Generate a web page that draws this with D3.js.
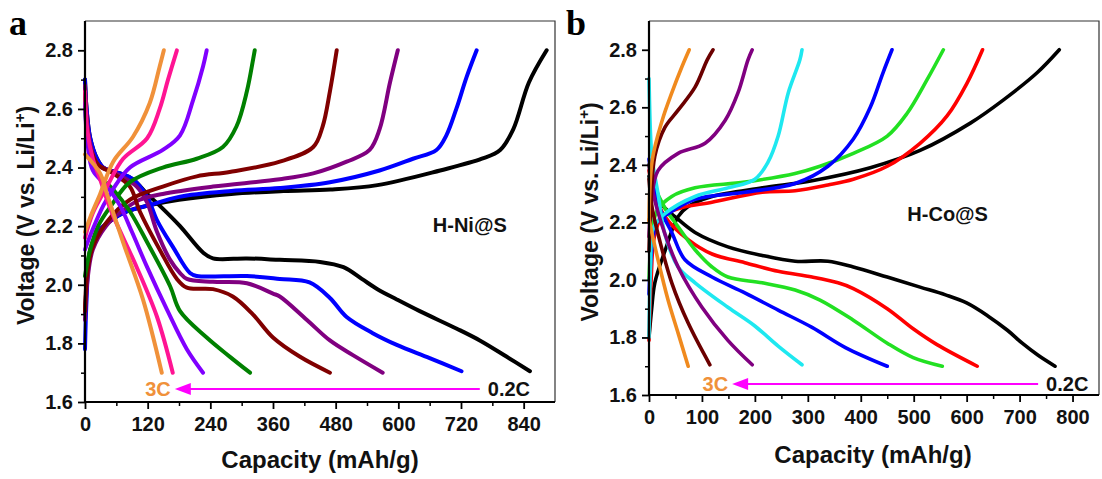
<!DOCTYPE html>
<html>
<head>
<meta charset="utf-8">
<script src="https://cdn.jsdelivr.net/npm/d3@7"></script>
<style>
  body { margin: 0; background: #fff; }
  text { font-weight: bold; }
</style>
</head>
<body>
<div id="chart"></div>
<script>
// ---- panel a : H-Ni@S, [capacity mAh/g, voltage V] ----
var niBlackCh  = [[0,1.90],[5,2.05],[10,2.12],[25,2.18],[50,2.22],[80,2.25],[120,2.27],[180,2.29],[280,2.31],[380,2.32],[470,2.325],[560,2.34],[680,2.39],[760,2.43],[795,2.46],[820,2.53],[850,2.69],[884,2.80]];
var niBlueCh   = [[0,1.78],[3,1.95],[8,2.08],[25,2.18],[50,2.22],[80,2.25],[120,2.27],[180,2.30],[280,2.32],[373,2.33],[469,2.35],[564,2.39],[628,2.43],[673,2.46],[692,2.51],[711,2.60],[731,2.71],[750,2.80]];
var niPurpleCh = [[0,1.88],[5,2.02],[15,2.12],[40,2.20],[70,2.25],[105,2.29],[149,2.31],[245,2.335],[373,2.36],[437,2.38],[501,2.42],[545,2.46],[564,2.53],[584,2.69],[599,2.80]];
var niMaroonCh = [[0,1.91],[5,2.05],[15,2.13],[40,2.21],[86,2.29],[149,2.335],[214,2.37],[277,2.385],[373,2.42],[437,2.47],[455,2.54],[469,2.66],[482,2.80]];
var niGreenCh  = [[0,2.03],[10,2.12],[25,2.20],[50,2.27],[86,2.35],[149,2.40],[214,2.43],[264,2.47],[290,2.54],[310,2.66],[322,2.77],[325,2.80]];
var niVioletCh = [[0,2.12],[15,2.19],[35,2.27],[55,2.33],[86,2.40],[149,2.46],[182,2.51],[207,2.63],[226,2.745],[233,2.80]];
var niPinkCh   = [[0,2.16],[15,2.245],[42,2.335],[73,2.43],[119,2.50],[143,2.60],[159,2.70],[176,2.80]];
var niOrangeCh = [[0,2.18],[10,2.23],[29,2.31],[54,2.42],[92,2.505],[124,2.62],[143,2.745],[151,2.80]];

var niBlackDis  = [[0,2.70],[3,2.60],[10,2.50],[23,2.43],[35,2.40],[67,2.38],[92,2.36],[119,2.31],[143,2.27],[182,2.20],[226,2.11],[245,2.09],[310,2.09],[373,2.085],[450,2.078],[495,2.06],[530,2.02],[560,1.985],[597,1.95],[641,1.91],[712,1.85],[756,1.81],[807,1.755],[852,1.705]];
var niBlueDis   = [[0,2.70],[3,2.60],[10,2.50],[23,2.43],[35,2.40],[67,2.38],[92,2.36],[119,2.30],[138,2.22],[168,2.13],[201,2.04],[214,2.03],[310,2.03],[373,2.02],[430,2.008],[469,1.955],[501,1.89],[551,1.835],[597,1.795],[660,1.75],[721,1.705]];
var niPurpleDis = [[0,2.68],[3,2.58],[10,2.48],[25,2.41],[60,2.38],[99,2.335],[119,2.28],[138,2.18],[163,2.085],[182,2.04],[195,2.02],[245,2.01],[310,2.005],[360,1.97],[373,1.96],[425,1.88],[469,1.81],[513,1.76],[570,1.70]];
var niMaroonDis = [[0,2.66],[3,2.56],[10,2.47],[25,2.41],[54,2.38],[86,2.335],[105,2.25],[143,2.12],[176,2.02],[195,1.99],[245,1.985],[283,1.96],[321,1.90],[360,1.82],[411,1.755],[469,1.70]];
var niGreenDis  = [[0,2.62],[5,2.50],[15,2.42],[29,2.37],[54,2.325],[86,2.25],[119,2.145],[163,1.995],[182,1.91],[233,1.82],[277,1.755],[316,1.70]];
var niVioletDis = [[0,2.62],[5,2.48],[15,2.39],[42,2.335],[67,2.27],[90,2.18],[119,2.06],[157,1.915],[195,1.78],[226,1.70]];
var niPinkDis   = [[0,2.66],[5,2.52],[15,2.43],[29,2.36],[42,2.29],[54,2.235],[99,2.06],[138,1.89],[168,1.70]];
var niOrangeDis = [[0,2.445],[29,2.38],[42,2.31],[73,2.145],[111,1.95],[147,1.70]];

// ---- panel b : H-Co@S ----
var coBlackCh  = [[0,1.80],[5,1.90],[11,1.99],[30,2.10],[55,2.22],[74,2.255],[119,2.29],[214,2.32],[308,2.345],[418,2.39],[512,2.45],[607,2.545],[669,2.625],[733,2.72],[775,2.80]];
var coRedCh    = [[0,1.79],[4,2.00],[10,2.15],[25,2.22],[60,2.25],[119,2.27],[214,2.305],[276,2.31],[338,2.33],[386,2.35],[450,2.395],[512,2.475],[563,2.57],[601,2.685],[630,2.80]];
var coGreenCh  = [[0,2.00],[5,2.15],[15,2.24],[43,2.29],[87,2.32],[181,2.34],[276,2.37],[323,2.395],[386,2.44],[450,2.50],[488,2.58],[525,2.695],[556,2.80]];
var coBlueCh   = [[0,1.95],[5,2.10],[15,2.20],[36,2.23],[87,2.28],[181,2.305],[276,2.335],[338,2.395],[386,2.49],[418,2.60],[442,2.72],[459,2.80]];
var coCyanCh   = [[0,1.80],[3,2.05],[8,2.18],[30,2.23],[87,2.29],[149,2.32],[200,2.35],[225,2.41],[244,2.50],[263,2.65],[285,2.765],[289,2.80]];
var coPurpleCh = [[0,2.15],[5,2.28],[17,2.38],[55,2.44],[106,2.475],[144,2.555],[168,2.65],[187,2.765],[195,2.80]];
var coMaroonCh = [[0,2.10],[4,2.28],[11,2.43],[30,2.53],[55,2.59],[87,2.67],[110,2.765],[121,2.80]];
var coOrangeCh = [[0,2.20],[6,2.415],[25,2.555],[43,2.65],[62,2.74],[76,2.80]];

var coBlackDis  = [[0,2.36],[10,2.30],[30,2.25],[49,2.22],[87,2.165],[149,2.115],[214,2.085],[276,2.065],[338,2.065],[386,2.045],[450,2.01],[512,1.975],[560,1.948],[600,1.92],[640,1.875],[677,1.825],[705,1.78],[735,1.738],[767,1.70]];
var coRedDis    = [[0,2.38],[10,2.30],[30,2.22],[74,2.14],[119,2.09],[181,2.06],[244,2.03],[308,2.01],[357,1.99],[386,1.97],[450,1.90],[499,1.83],[544,1.775],[620,1.70]];
var coGreenDis  = [[0,2.40],[10,2.33],[30,2.25],[55,2.185],[87,2.105],[119,2.045],[149,2.01],[214,1.99],[276,1.965],[323,1.93],[386,1.86],[450,1.78],[499,1.73],[554,1.70]];
var coBlueDis   = [[0,2.42],[8,2.33],[20,2.25],[43,2.165],[68,2.07],[119,2.01],[181,1.955],[244,1.895],[308,1.835],[371,1.765],[450,1.70]];
var coCyanDis   = [[0,2.70],[3,2.50],[6,2.42],[17,2.30],[30,2.16],[55,2.045],[87,1.99],[149,1.905],[200,1.84],[244,1.77],[289,1.705]];
var coPurpleDis = [[0,2.40],[8,2.30],[30,2.16],[55,2.045],[100,1.905],[149,1.79],[195,1.705]];
var coMaroonDis = [[0,2.35],[6,2.25],[17,2.16],[43,1.99],[74,1.85],[115,1.705]];
var coOrangeDis = [[0,2.21],[17,2.07],[36,1.93],[55,1.815],[74,1.70]];

var niColors = ["#000000","#0000ff","#800080","#800000","#008000","#8000ff","#ff1493","#f0913a"];
var coColors = ["#000000","#ff0000","#22e022","#0000ff","#1ee8f0","#800080","#6b0000","#f08a1e"];

var voltTicks = [1.6, 1.8, 2.0, 2.2, 2.4, 2.6, 2.8];
var niCapTicks = [0, 120, 240, 360, 480, 600, 720, 840];
var coCapTicks = [0, 100, 200, 300, 400, 500, 600, 700, 800];

var SANS = "'Liberation Sans', Arial, sans-serif";
var SERIF = "'Liberation Serif', 'Times New Roman', serif";

var svg = d3.select("#chart").append("svg")
    .attr("width", 1102).attr("height", 479)
    .style("background", "#fff")
    .style("font-family", SANS);

function drawPanel(p) {
  var x = d3.scaleLinear().domain(p.xDomain).range([p.left, p.right]);
  var y = d3.scaleLinear().domain([1.6, 2.9]).range([p.bottom, p.top]);
  var g = svg.append("g");

  // frame (top / right thin)
  g.append("path")
    .attr("d", "M" + p.left + "," + p.top + "H" + p.right + "V" + p.bottom)
    .attr("fill", "none").attr("stroke", "#333").attr("stroke-width", 1.2);

  var line = d3.line()
    .x(function(d) { return x(d[0]); })
    .y(function(d) { return y(d[1]); })
    .curve(d3.curveCatmullRom.alpha(0.5));

  p.series.forEach(function(s, i) {
    [s.ch, s.dis].forEach(function(arr) {
      g.append("path")
        .datum(arr)
        .attr("d", line)
        .attr("fill", "none")
        .attr("stroke", p.colors[i])
        .attr("stroke-width", p.lw)
        .attr("stroke-linecap", "round")
        .attr("stroke-linejoin", "round");
    });
  });

  // minor ticks
  var minorX = d3.range(p.xMinor, p.xDomain[1], p.xMinor * 2);
  g.append("g").attr("transform", "translate(0," + p.bottom + ")")
    .call(d3.axisBottom(x).tickValues(minorX).tickSize(4).tickFormat(""))
    .call(function(a) { a.select(".domain").remove(); a.selectAll("line").attr("stroke-width", 1.5); });
  g.append("g").attr("transform", "translate(" + p.left + ",0)")
    .call(d3.axisLeft(y).tickValues([1.7, 1.9, 2.1, 2.3, 2.5, 2.7]).tickSize(4).tickFormat(""))
    .call(function(a) { a.select(".domain").remove(); a.selectAll("line").attr("stroke-width", 1.5); });

  // major axes
  var xa = g.append("g").attr("transform", "translate(0," + p.bottom + ")")
    .call(d3.axisBottom(x).tickValues(p.xTicks).tickSize(7).tickSizeOuter(0).tickPadding(8));
  var ya = g.append("g").attr("transform", "translate(" + p.left + ",0)")
    .call(d3.axisLeft(y).tickValues(voltTicks).tickSize(7).tickSizeOuter(0).tickPadding(5).tickFormat(d3.format(".1f")));
  [xa, ya].forEach(function(a) {
    a.attr("font-family", null).attr("font-size", null);
    a.select(".domain").attr("stroke", "#000").attr("stroke-width", 2.2);
    a.selectAll(".tick line").attr("stroke-width", 1.8);
    a.selectAll("text").style("font-size", "20px").style("font-weight", "bold")
      .style("font-family", SANS).attr("fill", "#111");
  });
  ya.select(".domain").attr("d", "M0," + p.top + "V" + p.bottom);
  xa.select(".domain").attr("d", "M" + p.left + ",0H" + p.right);

  // titles
  var yt = svg.append("text")
    .attr("transform", "translate(" + p.yTitleX + "," + ((p.top + p.bottom) / 2 + 4) + ") rotate(-90)")
    .attr("text-anchor", "middle").style("font-size", "23px").attr("fill", "#111");
  yt.append("tspan").text("Voltage (V vs. Li/Li");
  yt.append("tspan").attr("dy", -9).style("font-size", "15px").text("+");
  yt.append("tspan").attr("dy", 9).text(")");

  svg.append("text").attr("x", p.xTitleX).attr("y", p.xTitleY)
    .attr("text-anchor", "middle").style("font-size", "24px").attr("fill", "#111")
    .text("Capacity (mAh/g)");

  svg.append("text").attr("x", p.letterX).attr("y", 35)
    .style("font-family", SERIF)
    .style("font-size", "36px").style("font-weight", "bold").text(p.letter);

  svg.append("text").attr("x", x(p.nameAt[0])).attr("y", y(p.nameAt[1]))
    .style("font-size", "20px").attr("fill", "#111").text(p.name);

  // rate arrow
  var ay = y(p.arrow[2]);
  g.append("line")
    .attr("x1", x(p.arrow[0])).attr("x2", x(p.arrow[1]) + 14)
    .attr("y1", ay).attr("y2", ay)
    .attr("stroke", "#ff00ff").attr("stroke-width", 2);
  var tip = x(p.arrow[1]);
  g.append("path")
    .attr("d", "M" + tip + "," + ay + "L" + (tip + 16) + "," + (ay - 6) + "L" + (tip + 16) + "," + (ay + 6) + "Z")
    .attr("fill", "#ff00ff");
  g.append("text").attr("x", tip - 4).attr("y", ay + 7)
    .attr("text-anchor", "end").style("font-size", "20px").attr("fill", "#f0913a").text("3C");
  g.append("text").attr("x", x(p.arrow[0]) + 8).attr("y", ay + 7)
    .style("font-size", "20px").attr("fill", "#111").text("0.2C");
}

drawPanel({
  left: 85, right: 555, top: 21, bottom: 402,
  xDomain: [0, 900], xTicks: niCapTicks, xMinor: 60,
  lw: 4,
  colors: niColors,
  series: [
    {ch: niBlackCh, dis: niBlackDis}, {ch: niBlueCh, dis: niBlueDis},
    {ch: niPurpleCh, dis: niPurpleDis}, {ch: niMaroonCh, dis: niMaroonDis},
    {ch: niGreenCh, dis: niGreenDis}, {ch: niVioletCh, dis: niVioletDis},
    {ch: niPinkCh, dis: niPinkDis}, {ch: niOrangeCh, dis: niOrangeDis}
  ],
  yTitleX: 34, xTitleX: 320, xTitleY: 468,
  letter: "a", letterX: 9,
  name: "H-Ni@S", nameAt: [666, 2.18],
  arrow: [756, 172, 1.644]
});

drawPanel({
  left: 649, right: 1099, top: 21, bottom: 395,
  xDomain: [0, 850], xTicks: coCapTicks, xMinor: 50,
  lw: 3.6,
  colors: coColors,
  series: [
    {ch: coBlackCh, dis: coBlackDis}, {ch: coRedCh, dis: coRedDis},
    {ch: coGreenCh, dis: coGreenDis}, {ch: coBlueCh, dis: coBlueDis},
    {ch: coCyanCh, dis: coCyanDis}, {ch: coPurpleCh, dis: coPurpleDis},
    {ch: coMaroonCh, dis: coMaroonDis}, {ch: coOrangeCh, dis: coOrangeDis}
  ],
  yTitleX: 598, xTitleX: 873, xTitleY: 463,
  letter: "b", letterX: 566,
  name: "H-Co@S", nameAt: [488, 2.205],
  arrow: [735, 157, 1.638]
});
</script>
</body>
</html>
